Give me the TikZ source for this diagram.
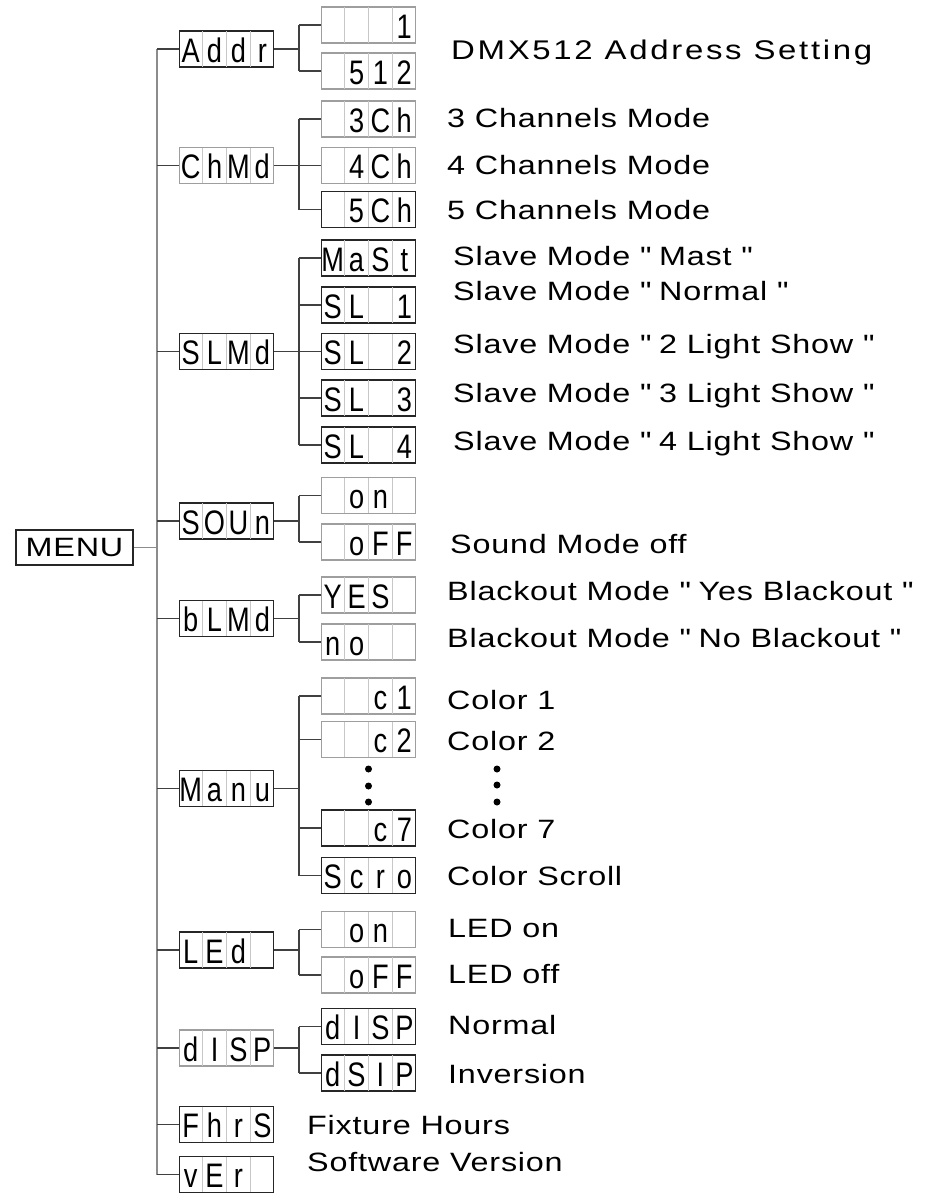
\documentclass[tikz,border=0pt]{standalone}
\usepackage{fontspec}
\setmainfont{Liberation Sans}[FakeStretch=1.22, LetterSpace=3]
\newfontfamily\dispfont{Liberation Sans}[FakeStretch=0.8]
\newcommand\q{\textquotedbl}
\usetikzlibrary{calc}
\tikzset{
  trunkline/.style={draw=black!45, line width=1.2pt},
  wire/.style={draw=black!75, line width=1.5pt},
  dbox/.style={draw=black!85, line width=1.6pt, minimum width=94pt, minimum height=36pt, inner sep=0pt},
  lbox/.style={draw=black!38, line width=1.2pt},
  divider/.style={draw=black!22, line width=1pt},
  dchar/.style={anchor=base, inner sep=0pt, font=\dispfont\fontsize{34}{38}\selectfont},
  lbl/.style={anchor=base west, inner sep=0pt, font=\fontsize{26.5}{30}\selectfont},
  menubox/.style={draw=black!85, line width=1.6pt, minimum width=117pt, minimum height=35pt, inner sep=0pt, font=\fontsize{26.5}{30}\selectfont},
  dot/.style={circle, fill=black, inner sep=0pt, minimum size=7pt}
}
% #1 name, #2 x, #3 y, #4 extra style, #5-#8 characters
\newcommand\dispbox[8]{%
  \node[dbox,#4] (#1) at (#2,#3) {};
  \foreach \k in {1,2,3}
    \draw[divider] ($(#1.north west)!\k/4!(#1.north east)+(0,1)$) -- ($(#1.south west)!\k/4!(#1.south east)+(0,-1)$);
  \node[dchar] (#1-a) at ($(#1.south west)!0.125!(#1.south east)+(0,-5.5)$) {#5};
  \node[dchar] (#1-b) at ($(#1.south west)!0.375!(#1.south east)+(0,-5.5)$) {#6};
  \node[dchar] (#1-c) at ($(#1.south west)!0.625!(#1.south east)+(0,-5.5)$) {#7};
  \node[dchar] (#1-d) at ($(#1.south west)!0.875!(#1.south east)+(0,-5.5)$) {#8};
}
% #1 parent, #2 first child, #3 last child, #4 list of children
\newcommand\fan[4]{%
  \draw[wire] (#1.east) -- (#1.east -| jx);
  \draw[wire] (#2.west -| jx) -- (#3.west -| jx);
  \foreach \c in {#4} \draw[wire] (\c.west -| jx) -- (\c.west);
}
\begin{document}
\begin{tikzpicture}[x=1pt, y=-1pt]
\fill[white] (0,0) rectangle (941,1194);
\useasboundingbox (0,0) rectangle (941,1194);
\coordinate (tx) at (157,0);
\coordinate (jx) at (299,0);

% MENU
\node[menubox] (menu) at (74.5,547.5) {MENU};

% level 1
\dispbox{addr}{226.5}{49}{}{A}{d}{d}{r}
\dispbox{chmd}{226.5}{165.5}{lbox}{C}{h}{M}{d}
\dispbox{slmd}{226.5}{351.5}{}{S}{L}{M}{d}
\dispbox{soun}{226.5}{521}{}{S}{O}{U}{n}
\dispbox{blmd}{226.5}{618.5}{}{b}{L}{M}{d}
\dispbox{manu}{226.5}{788.5}{}{M}{a}{n}{u}
\dispbox{led}{226.5}{950}{}{L}{E}{d}{}
\dispbox{disp}{226.5}{1048}{lbox}{d}{I}{S}{P}
\dispbox{fhrs}{226.5}{1124.5}{}{F}{h}{r}{S}
\dispbox{ver}{226.5}{1174.5}{}{v}{E}{r}{}

% level 2
\dispbox{one}{368.5}{25}{lbox}{}{}{}{1}
\dispbox{fzt}{368.5}{71}{lbox}{}{5}{1}{2}
\dispbox{cha}{368.5}{119}{lbox}{}{3}{C}{h}
\dispbox{chb}{368.5}{165.5}{lbox}{}{4}{C}{h}
\dispbox{chc}{368.5}{209.5}{}{}{5}{C}{h}
\dispbox{mast}{368.5}{258}{}{M}{a}{S}{t}
\dispbox{sla}{368.5}{305}{}{S}{L}{}{1}
\dispbox{slb}{368.5}{351.5}{}{S}{L}{}{2}
\dispbox{slc}{368.5}{398}{}{S}{L}{}{3}
\dispbox{sld}{368.5}{445}{}{S}{L}{}{4}
\dispbox{son}{368.5}{495.5}{lbox}{}{o}{n}{}
\dispbox{soff}{368.5}{542}{lbox}{}{o}{F}{F}
\dispbox{yes}{368.5}{595}{lbox}{Y}{E}{S}{}
\dispbox{no}{368.5}{642}{lbox}{n}{o}{}{}
\dispbox{cola}{368.5}{696}{lbox}{}{}{c}{1}
\dispbox{colb}{368.5}{739.5}{lbox}{}{}{c}{2}
\dispbox{colg}{368.5}{828}{}{}{}{c}{7}
\dispbox{scro}{368.5}{875.5}{}{S}{c}{r}{o}
\dispbox{lon}{368.5}{929.5}{lbox}{}{o}{n}{}
\dispbox{loff}{368.5}{975}{lbox}{}{o}{F}{F}
\dispbox{dsa}{368.5}{1026.5}{}{d}{I}{S}{P}
\dispbox{dsb}{368.5}{1073}{}{d}{S}{I}{P}

% dots in the display column
\node[dot] (da1) at (368.5,769) {};
\node[dot] (da2) at (368.5,786) {};
\node[dot] (da3) at (368.5,802) {};

% trunk
\draw[trunkline] (menu.east) -- (menu.east -| tx);
\draw[trunkline] (addr.west -| tx) -- (ver.west -| tx);
\foreach \p in {addr,chmd,slmd,soun,blmd,manu,led,disp,fhrs,ver}
  \draw[wire] (\p.west -| tx) -- (\p.west);

% fans
\fan{addr}{one}{fzt}{one,fzt}
\fan{chmd}{cha}{chc}{cha,chb,chc}
\fan{slmd}{mast}{sld}{mast,sla,slb,slc,sld}
\fan{soun}{son}{soff}{son,soff}
\fan{blmd}{yes}{no}{yes,no}
\fan{manu}{cola}{scro}{cola,colb,colg,scro}
\fan{led}{lon}{loff}{lon,loff}
\fan{disp}{dsa}{dsb}{dsa,dsb}

% labels
\node[lbl, font=\addfontfeatures{LetterSpace=10}\fontsize{27}{30}\selectfont] (t1) at (451,59) {DMX512 Address Setting};
\node[lbl] (t2) at (447,127) {3 Channels Mode};
\node[lbl] (t3) at (447,174) {4 Channels Mode};
\node[lbl] (t4) at (447,219) {5 Channels Mode};
\node[lbl] (t5) at (453,265) {Slave Mode \q\ Mast \q};
\node[lbl] (t6) at (453,300) {Slave Mode \q\ Normal \q};
\node[lbl] (t7) at (453,353) {Slave Mode \q\ 2 Light Show \q};
\node[lbl] (t8) at (453,402) {Slave Mode \q\ 3 Light Show \q};
\node[lbl] (t9) at (453,450) {Slave Mode \q\ 4 Light Show \q};
\node[lbl] (t10) at (450,553) {Sound Mode off};
\node[lbl] (t11) at (447,600) {Blackout Mode \q\ Yes Blackout \q};
\node[lbl] (t12) at (447,647) {Blackout Mode \q\ No Blackout \q};
\node[lbl] (t13) at (447,709) {Color 1};
\node[lbl] (t14) at (447,750) {Color 2};
\node[dot] (db1) at (497,769) {};
\node[dot] (db2) at (497,785) {};
\node[dot] (db3) at (497,802) {};
\node[lbl] (t15) at (447,838) {Color 7};
\node[lbl] (t16) at (447,885) {Color Scroll};
\node[lbl] (t17) at (448,937) {LED on};
\node[lbl] (t18) at (448,983) {LED off};
\node[lbl] (t19) at (448,1034) {Normal};
\node[lbl] (t20) at (448,1083) {Inversion};
\node[lbl] (t21) at (307,1134) {Fixture Hours};
\node[lbl] (t22) at (307,1171) {Software Version};
\end{tikzpicture}
\end{document}
